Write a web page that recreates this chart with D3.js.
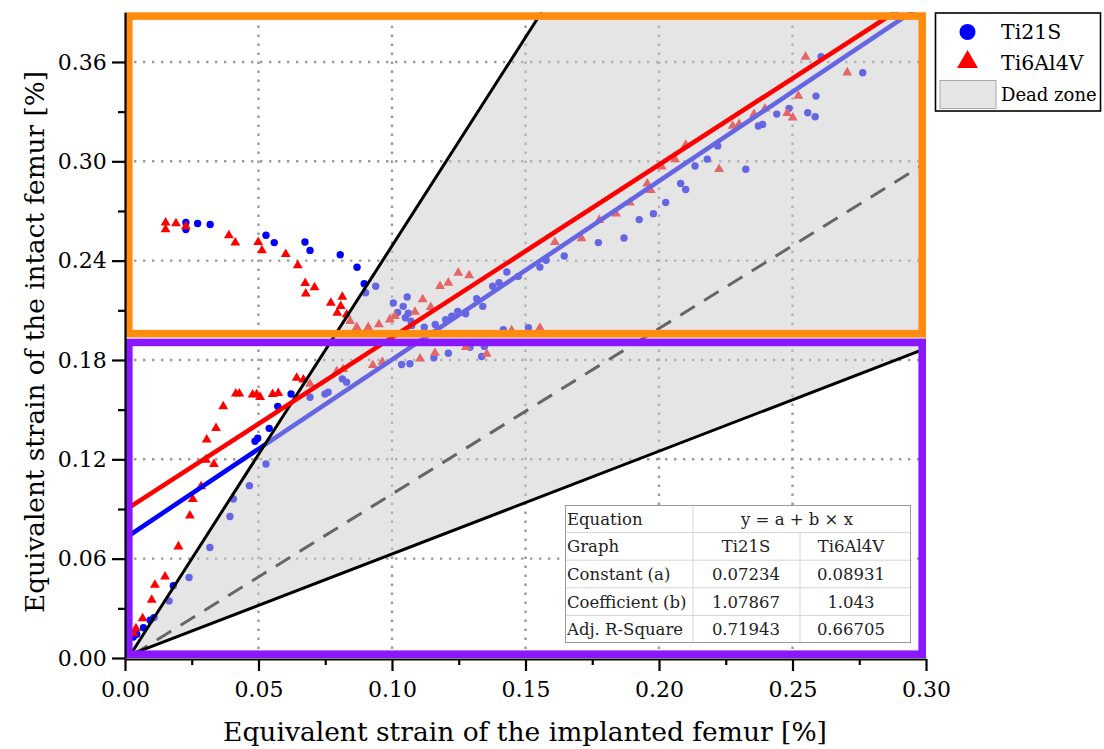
<!DOCTYPE html>
<html>
<head>
<meta charset="utf-8">
<script src="https://cdn.jsdelivr.net/npm/d3@7"></script>
<style>
  html, body { margin: 0; padding: 0; background: #fff; }
  svg { display: block; }
  text { font-family: "DejaVu Serif", "Liberation Serif", serif; }
</style>
</head>
<body>
<svg id="chart" width="1104" height="749"></svg>
<script>
// Strain pairs: [implanted femur strain %, intact femur strain %]
const ti21sPoints = [
  [0.0228,0.2630],[0.0228,0.2588],[0.0272,0.2624],[0.0319,0.2618],[0.0528,0.2553],
  [0.0559,0.2509],[0.0674,0.2513],[0.0693,0.2462],[0.0806,0.2436],[0.0869,0.2360],
  [0.0896,0.2261],[0.0939,0.2245],[0.0901,0.2206],[0.1005,0.2144],[0.1021,0.2087],
  [0.1042,0.2124],[0.1057,0.2180],[0.1061,0.2083],[0.1050,0.2055],[0.1071,0.2035],
  [0.1074,0.2009],[0.1121,0.1998],[0.1162,0.2015],[0.1201,0.2043],[0.1224,0.2065],
  [0.1246,0.2093],[0.1276,0.2079],[0.1317,0.2170],[0.1340,0.2124],[0.1377,0.2245],
  [0.1401,0.2267],[0.1430,0.2331],[0.1473,0.2305],[0.1417,0.1983],[0.1511,0.1995],
  [0.1211,0.1841],[0.1157,0.1813],[0.1036,0.1773],[0.1067,0.1777],[0.1292,0.1877],
  [0.1346,0.1882],[0.1336,0.1821],
  [0.0031,0.0127],[0.0044,0.0143],[0.0069,0.0183],[0.0094,0.0228],[0.0109,0.0244],
  [0.0165,0.0345],[0.0181,0.0436],[0.0240,0.0486],[0.0318,0.0667],[0.0393,0.0855],
  [0.0406,0.0960],[0.0466,0.1041],[0.0528,0.1172],[0.0487,0.1309],[0.0497,0.1327],
  [0.0540,0.1387],[0.0572,0.1520],[0.0622,0.1595],[0.0693,0.1575],[0.0761,0.1605],
  [0.0749,0.1595],[0.0814,0.1686],[0.0830,0.1666],
  [0.1554,0.2361],[0.1577,0.2402],[0.1645,0.2428],[0.1773,0.2509],[0.1869,0.2537],
  [0.1926,0.2648],[0.1979,0.2684],[0.2025,0.2751],[0.2081,0.2866],[0.2100,0.2830],
  [0.2135,0.2972],[0.2181,0.3013],[0.2220,0.3093],[0.2325,0.2952],[0.2372,0.3213],
  [0.2388,0.3223],[0.2441,0.3285],[0.2487,0.3320],[0.2557,0.3293],[0.2585,0.3269],
  [0.2588,0.3394],[0.2607,0.3632],[0.2763,0.3535]
];
const ti6al4vPoints = [
  [0.0152,0.2634],[0.0152,0.2594],[0.0191,0.2630],[0.0228,0.2612],[0.0389,0.2557],
  [0.0413,0.2513],[0.0499,0.2517],[0.0513,0.2467],[0.0602,0.2444],[0.0647,0.2376],
  [0.0675,0.2269],[0.0677,0.2206],[0.0710,0.2243],[0.0771,0.2150],[0.0814,0.2186],
  [0.0808,0.2130],[0.0795,0.2089],[0.0830,0.2079],[0.0843,0.2039],[0.0868,0.2003],
  [0.0911,0.2003],[0.0951,0.2019],[0.0992,0.2049],[0.1011,0.2069],[0.1086,0.2095],
  [0.1115,0.2170],[0.1145,0.2124],[0.1180,0.2251],[0.1211,0.2271],[0.1248,0.2331],
  [0.1289,0.2315],[0.1448,0.1984],[0.1554,0.1998],[0.1161,0.1847],[0.1105,0.1813],
  [0.1277,0.1882],[0.1355,0.1841],[0.0964,0.1793],[0.0928,0.1773],[0.0817,0.1750],
  [0.0041,0.0183],[0.0066,0.0244],[0.0100,0.0355],[0.0112,0.0446],[0.0150,0.0496],
  [0.0200,0.0678],[0.0243,0.0865],[0.0254,0.0964],[0.0285,0.1041],[0.0303,0.1202],
  [0.0333,0.1176],[0.0306,0.1323],[0.0341,0.1393],[0.0368,0.1525],[0.0415,0.1601],
  [0.0428,0.1601],[0.0478,0.1595],[0.0493,0.1597],[0.0506,0.1581],[0.0553,0.1599],
  [0.0574,0.1605],[0.0643,0.1696],[0.0668,0.1686],[0.0693,0.1660],[0.0793,0.1736],
  [0.0031,0.0153],
  [0.1610,0.2517],[0.1710,0.2539],[0.1776,0.2650],[0.1839,0.2688],[0.1891,0.2755],
  [0.1956,0.2870],[0.1969,0.2830],[0.2010,0.2972],[0.2060,0.3017],[0.2100,0.3104],
  [0.2225,0.2957],[0.2276,0.3219],[0.2300,0.3229],[0.2356,0.3289],[0.2397,0.3323],
  [0.2480,0.3296],[0.2501,0.3269],[0.2522,0.3400],[0.2549,0.3636],[0.2705,0.3541]
];

// Linear fit results, y = a + b * x
const seriesNames = ["Ti21S", "Ti6Al4V"];
const fitConstant = [0.07234, 0.08931];
const fitCoefficient = [1.07867, 1.043];
const fitAdjR2 = ["0.71943", "0.66705"];
const fitConstantText = ["0.07234", "0.08931"];
const fitCoefficientText = ["1.07867", "1.043"];

// Dead zone limits (vertex and the two bounding lines)
const deadUpper = [[0.002, 0.002], [0.156, 0.39]];
const deadLower = [[0.002, 0.002], [0.30, 0.187]];
const identityLine = [[0.003, 0.002], [0.30, 0.299]];

// Highlighted strain bands
const bandLimits = [[0.1936, 0.39], [0.0, 0.1929]];
const bandColors = ["#ff8c0f", "#8b17ff"];

const xTicks = [0, 0.05, 0.10, 0.15, 0.20, 0.25, 0.30];
const xMinorTicks = [0.025, 0.075, 0.125, 0.175, 0.225, 0.275];
const yTicks = [0, 0.06, 0.12, 0.18, 0.24, 0.30, 0.36];
const yMinorTicks = [0.03, 0.09, 0.15, 0.21, 0.27, 0.33];

const xTitle = "Equivalent strain of the implanted femur [%]";
const yTitle = "Equivalent strain of the intact femur [%]";

const svg = d3.select("#chart");
const L = 125, R = 926, T = 12.3, B = 658;
const x = d3.scaleLinear().domain([0, 0.30]).range([L, R]);
const y = d3.scaleLinear().domain([0, 0.39]).range([B, T]);

svg.append("defs").append("clipPath").attr("id", "plotClip")
  .append("rect").attr("x", L).attr("y", T).attr("width", R - L).attr("height", B - T);

const plot = svg.append("g").attr("clip-path", "url(#plotClip)");

// dotted grid
const gridDash = "2.4,6.6";
plot.append("g").selectAll("line").data(xTicks.slice(1, -1)).join("line")
  .attr("x1", d => x(d)).attr("x2", d => x(d)).attr("y1", B).attr("y2", T)
  .attr("stroke", "#9a9a9a").attr("stroke-width", 2.4).attr("stroke-dasharray", gridDash);
plot.append("g").selectAll("line").data(yTicks.slice(1)).join("line")
  .attr("y1", d => y(d)).attr("y2", d => y(d)).attr("x1", L).attr("x2", R)
  .attr("stroke", "#9a9a9a").attr("stroke-width", 2.4).attr("stroke-dasharray", gridDash);

const line = d3.line().x(d => x(d[0])).y(d => y(d[1]));

// identity reference line (drawn under the dead zone shading)
plot.append("path").attr("d", line(identityLine))
  .attr("stroke", "#000").attr("stroke-width", 3).attr("fill", "none")
  .attr("stroke-dasharray", "17,11");

// scatter points
plot.append("g").selectAll("circle").data(ti21sPoints).join("circle")
  .attr("cx", d => x(d[0])).attr("cy", d => y(d[1])).attr("r", 3.7)
  .attr("fill", "#0000ff");
const tri = d3.symbol().type(d3.symbolTriangle).size(42);
plot.append("g").selectAll("path").data(ti6al4vPoints).join("path")
  .attr("d", tri).attr("transform", d => `translate(${x(d[0])},${y(d[1]) + 0.8})`)
  .attr("fill", "#ff0000");

// fit lines
const fitLine = i => [[0, fitConstant[i]], [0.30, fitConstant[i] + fitCoefficient[i] * 0.30]];
plot.append("path").attr("d", line(fitLine(0)))
  .attr("stroke", "#0000ff").attr("stroke-width", 4.6).attr("fill", "none");

// dead zone shading
const deadPoly = [deadUpper[0], deadUpper[1], [0.30, 0.39], deadLower[1]];
plot.append("path").attr("d", line(deadPoly) + "Z")
  .attr("fill", "#cccccc").attr("fill-opacity", 0.5);
plot.append("path").attr("d", line(deadUpper))
  .attr("stroke", "#000").attr("stroke-width", 3).attr("fill", "none");
plot.append("path").attr("d", line(deadLower))
  .attr("stroke", "#000").attr("stroke-width", 3).attr("fill", "none");

plot.append("path").attr("d", line(fitLine(1)))
  .attr("stroke", "#ff0000").attr("stroke-width", 4.6).attr("fill", "none");

// band frames
const bw = 7.6;
bandLimits.forEach((b, i) => {
  const top = y(b[1]), bot = y(b[0]);
  svg.append("rect")
    .attr("x", L + bw / 2).attr("y", top + bw / 2)
    .attr("width", R - L - bw).attr("height", bot - top - bw)
    .attr("fill", "none").attr("stroke", bandColors[i]).attr("stroke-width", bw);
});

// fit table
const tbl = svg.append("g");
const tx0 = 565, tx1 = 693, tx2 = 800, tx3 = 911, ty0 = 505, rowH = 27.6;
tbl.append("rect").attr("x", tx0).attr("y", ty0).attr("width", tx3 - tx0).attr("height", rowH * 5)
  .attr("fill", "#fff");
for (let r = 1; r < 5; r++) {
  tbl.append("line").attr("x1", tx0).attr("x2", tx3).attr("y1", ty0 + r * rowH).attr("y2", ty0 + r * rowH)
    .attr("stroke", "#d6d6d6").attr("stroke-width", 1);
}
tbl.append("line").attr("x1", tx1).attr("x2", tx1).attr("y1", ty0).attr("y2", ty0 + 5 * rowH)
  .attr("stroke", "#d6d6d6");
tbl.append("line").attr("x1", tx2).attr("x2", tx2).attr("y1", ty0 + rowH).attr("y2", ty0 + 5 * rowH)
  .attr("stroke", "#d6d6d6");
tbl.append("rect").attr("x", tx0 + 0.5).attr("y", ty0 + 0.5).attr("width", tx3 - tx0 - 1).attr("height", rowH * 5 - 1)
  .attr("fill", "none").attr("stroke", "#9a9a9a").attr("stroke-width", 1);

const rows = [
  ["Equation", "y = a + b × x", null],
  ["Graph", seriesNames[0], seriesNames[1]],
  ["Constant (a)", fitConstantText[0], fitConstantText[1]],
  ["Coefficient (b)", fitCoefficientText[0], fitCoefficientText[1]],
  ["Adj. R-Square", fitAdjR2[0], fitAdjR2[1]]
];
rows.forEach((row, r) => {
  const cy = ty0 + r * rowH + rowH / 2 + 6;
  tbl.append("text").attr("x", tx0 + 2).attr("y", cy).text(row[0])
    .attr("font-size", 16.5).attr("fill", "#222");
  if (row[2] === null) {
    tbl.append("text").attr("x", 797).attr("y", cy).text(row[1])
      .attr("text-anchor", "middle").attr("font-size", 16.5).attr("fill", "#222");
  } else {
    tbl.append("text").attr("x", 746).attr("y", cy).text(row[1])
      .attr("text-anchor", "middle").attr("font-size", 16.5).attr("fill", "#222");
    tbl.append("text").attr("x", 851).attr("y", cy).text(row[2])
      .attr("text-anchor", "middle").attr("font-size", 16.5).attr("fill", "#222");
  }
});

// axes
const fmt = d3.format(".2f");
const xAxis = svg.append("g").attr("transform", `translate(0,${B + 1})`)
  .call(d3.axisBottom(x).tickValues(xTicks).tickFormat(fmt).tickSize(12).tickSizeOuter(0));
svg.append("g").attr("transform", `translate(0,${B + 1})`)
  .call(d3.axisBottom(x).tickValues(xMinorTicks).tickFormat("").tickSize(6).tickSizeOuter(0))
  .call(g => g.select(".domain").remove());
const yAxis = svg.append("g").attr("transform", `translate(${L},0)`)
  .call(d3.axisLeft(y).tickValues(yTicks).tickFormat(fmt).tickSize(13).tickSizeOuter(0));
svg.append("g").attr("transform", `translate(${L},0)`)
  .call(d3.axisLeft(y).tickValues(yMinorTicks).tickFormat("").tickSize(7).tickSizeOuter(0))
  .call(g => g.select(".domain").remove());

svg.selectAll(".tick line").attr("stroke", "#000").attr("stroke-width", 2.2);
svg.selectAll(".domain").attr("stroke", "#000").attr("stroke-width", 2.2);
xAxis.selectAll("text").attr("font-size", 22).attr("font-family", "DejaVu Serif")
  .attr("fill", "#000").attr("dy", "1.05em");
yAxis.selectAll("text").attr("font-size", 22).attr("font-family", "DejaVu Serif")
  .attr("fill", "#000").attr("dx", "-0.1em");

svg.append("text").attr("x", 525).attr("y", 741).attr("text-anchor", "middle")
  .attr("font-size", 26.5).attr("fill", "#000").text(xTitle);
svg.append("text").attr("transform", `translate(44,342) rotate(-90)`).attr("text-anchor", "middle")
  .attr("font-size", 26.3).attr("fill", "#000").text(yTitle);

// legend
const lg = svg.append("g");
lg.append("rect").attr("x", 935.5).attr("y", 13).attr("width", 165).attr("height", 98)
  .attr("fill", "#fff").attr("stroke", "#000").attr("stroke-width", 1.6);
lg.append("circle").attr("cx", 967.5).attr("cy", 32).attr("r", 8).attr("fill", "#0000ff");
lg.append("path").attr("d", d3.symbol().type(d3.symbolTriangle).size(190))
  .attr("transform", "translate(967.5,62)").attr("fill", "#ff0000");
lg.append("rect").attr("x", 940).attr("y", 80.5).attr("width", 56).attr("height", 28)
  .attr("fill", "#e6e6e6").attr("stroke", "#a8a8a8").attr("stroke-width", 1);
const legendLabels = [seriesNames[0], seriesNames[1], "Dead zone"];
legendLabels.forEach((t, i) => {
  lg.append("text").attr("x", 1001).attr("y", 39 + i * 31).attr("font-size", i === 2 ? 18 : 20.5)
    .attr("fill", "#000").text(t);
});
</script>
</body>
</html>
